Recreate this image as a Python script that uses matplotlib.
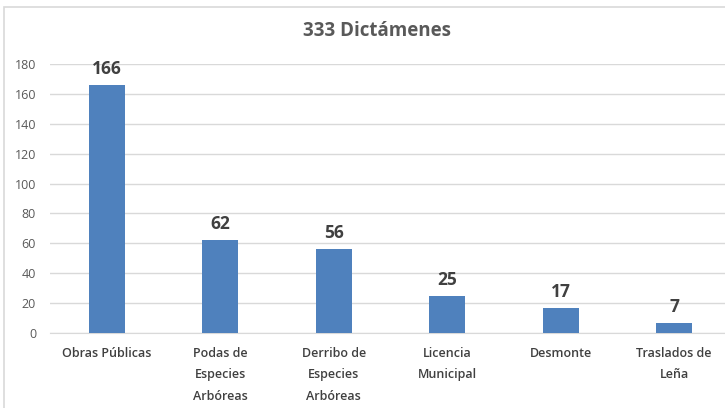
import matplotlib
matplotlib.use("Agg")
import matplotlib.pyplot as plt
from matplotlib.patches import Rectangle

categories = ["Obras Públicas", "Podas de\nEspecies\nArbóreas", "Derribo de\nEspecies\nArbóreas",
              "Licencia\nMunicipal", "Desmonte", "Traslados de\nLeña"]
values = [166, 62, 56, 25, 17, 7]
yticks = [0, 20, 40, 60, 80, 100, 120, 140, 160, 180]
title = "333 Dictámenes"

plt.rcParams['font.family'] = ['Open Sans', 'DejaVu Sans']

W, H = 725, 408
fig = plt.figure(figsize=(W/100, H/100), dpi=100)
fig.patch.set_facecolor("white")

# chart border
fig.patches.append(Rectangle((4/W, -0.1), 1.0, 1 - 7/H + 0.1, transform=fig.transFigure,
                             fill=False, edgecolor="#D9D9D9", linewidth=1.2, figure=fig))

# plot area: x 50..730 px, y 64(180)..333(0)
x0, x1 = 50, 731
yb, yt = 333, 64
ax = fig.add_axes([x0/W, 1 - yb/H, (x1-x0)/W, (yb-yt)/H])
ax.set_xlim(-0.5, len(values) - 0.5)
ax.set_ylim(0, 180)
ax.bar(range(len(values)), values, width=0.32, color="#4F81BD", zorder=3)
ax.set_yticks(yticks)
ax.yaxis.grid(True, color="#D9D9D9", linewidth=1.0, zorder=0)
for s in ["top", "right", "left"]:
    ax.spines[s].set_visible(False)
ax.spines["bottom"].set_color("#D9D9D9")
ax.tick_params(axis="y", length=0, labelsize=9, labelcolor="#595959", pad=10)
ax.tick_params(axis="x", length=0, pad=10)
ax.set_xticks(range(len(values)))
ax.set_xticklabels(categories, fontsize=9, color="#404040", fontweight="semibold",
                   linespacing=1.85, va="top")
for i, v in enumerate(values):
    ax.annotate(str(v), (i, v), xytext=(0, 5), textcoords="offset points",
                ha="center", va="bottom", fontsize=12.5, fontweight="bold", color="#404040")

fig.text(377/W, 1 - 31/H, title, ha="center", va="center", fontsize=13.5,
         fontweight="bold", color="#595959")

fig.savefig("out.png", dpi=100)
